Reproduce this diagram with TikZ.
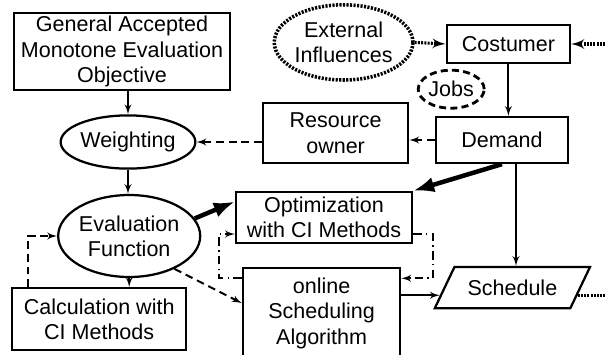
\documentclass[tikz,border=0pt]{standalone}
\usepackage{fontspec}
\setmainfont{Liberation Sans}
\usetikzlibrary{shapes,arrows,arrows.meta}

\begin{document}
\begin{tikzpicture}[>=latex', font=\fontsize{15.3}{18}\selectfont,
	box/.style={draw, line width=1.6pt, align=center, inner sep=1pt},
	oval/.style={draw, ellipse, line width=1.6pt, align=center, inner sep=0pt},
	link/.style={line width=1.4pt},
	heavy/.style={line width=3.2pt, -{Latex[length=15pt, width=11pt]}},
	dashline/.style={dash pattern=on 5.5pt off 3.5pt},
	dotline/.style={line width=2.2pt, dash pattern=on 1.4pt off 0.9pt},
	loopline/.style={dash pattern=on 6pt off 3pt on 1.2pt off 3pt}]
	\useasboundingbox (0,0) rectangle (15.125,-8.85);
	\coordinate (rim) at (15.125,0);
	% upper part
	\node [box, minimum width=5.4cm, minimum height=1.93cm] (gameo) at (3.05,-1.29) {General Accepted\\Monotone Evaluation\\Objective};
	\node [oval, minimum width=3.25cm, minimum height=1.33cm] (weight) at (3.2,-3.55) {Weighting};
	\node [box, minimum width=3.63cm, minimum height=1.5cm] (owner) at (8.39,-3.33) {Resource\\owner};
	\node [oval, line width=2.5pt, dash pattern=on 1.5pt off 1pt, minimum width=3.33cm, minimum height=1.88cm] (infl) at (8.59,-1.06) {External\\Influences};
	\node [box, minimum width=3.08cm, minimum height=0.95cm] (cost) at (12.71,-1.1) {Costumer};
	\node [oval, line width=2pt, dash pattern=on 5pt off 3pt, minimum width=1.65cm, minimum height=0.95cm] (jobs) at (11.28,-2.23) {Jobs};
	\node [box, minimum width=3.3cm, minimum height=1.15cm] (dem) at (12.55,-3.5) {Demand};
	% lower part
	\node [oval, minimum width=3.55cm, minimum height=2.05cm] (eval) at (3.23,-5.9) {Evaluation\\Function};
	\node [box, minimum width=4.4cm, minimum height=1.28cm] (opt) at (8.1,-5.44) {Optimization\\with CI Methods};
	\node [box, minimum width=3.93cm, minimum height=2.25cm] (online) at (8.04,-7.83) {online\\Scheduling\\Algorithm};
	\node [box, minimum width=4.35cm, minimum height=1.55cm] (calc) at (2.48,-7.98) {Calculation with\\CI Methods};
	\node [draw, trapezium, trapezium left angle=52, trapezium right angle=128, trapezium stretches body, line width=1.6pt, minimum width=3.88cm, minimum height=1.03cm] (sched) at (12.81,-7.19) {Schedule};
	% connectors
	\path [->, link] (weight.north |- gameo.south) edge (weight.north);
	\path [->, link, dashline] (owner.west |- weight.east) edge (weight.east);
	\path [->, dotline] (infl.east) edge (cost.west);
	\path [->, dotline] (rim |- cost.east) edge (cost.east);
	\path [->, link] (cost.south) edge (cost.south |- dem.north);
	\path [->, link, dashline] (dem.west) edge (dem.west -| owner.east);
	\path [heavy] (dem.south) edge (opt.north east);
	\coordinate (drop) at ([xshift=0.35cm]dem.south);
	\path [->, link] (drop) edge (drop |- sched.north);
	\path [->, link] (weight.south) edge (weight.south |- eval.north);
	\path [heavy] (eval.15) edge ([yshift=0.4cm]opt.west);
	\path [->, link] (eval.south) edge (eval.south |- calc.north);
	\draw [->, link, dashline] ([xshift=0.43cm]calc.north west) |- (eval.west);
	\path [->, link, dashline] (eval.-36) edge ([yshift=0.25cm]online.west);
	\draw [->, link, loopline] ([yshift=-0.28cm]online.north west) -- ++(-0.58,0) |- ([yshift=-0.41cm]opt.west);
	\draw [->, link, loopline] ([yshift=-0.41cm]opt.east) -- ++(0.5,0) |- ([yshift=-0.28cm]online.north east);
	\coordinate (s1) at (sched.186);
	\path [->, link] (s1 -| online.east) edge (s1);
	\coordinate (s2) at (sched.-7);
	\path [dotline] (s2) edge (s2 -| rim);
\end{tikzpicture}
\end{document}
